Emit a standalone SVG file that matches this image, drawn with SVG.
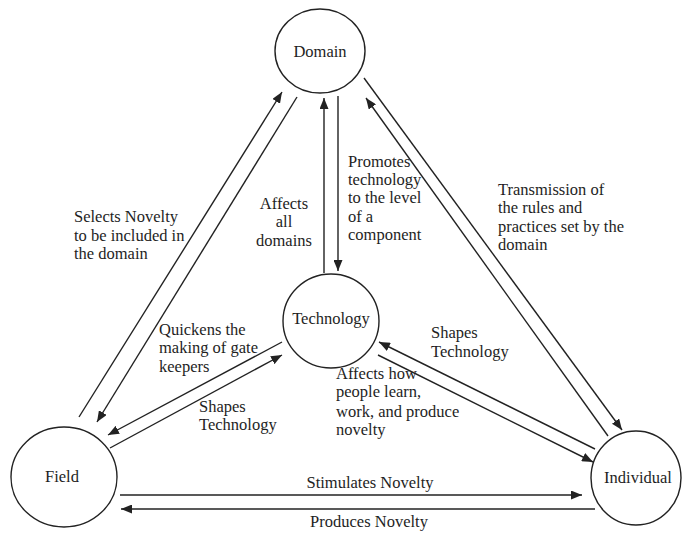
<svg xmlns="http://www.w3.org/2000/svg" width="682" height="533" viewBox="0 0 682 533">
  <style>
    .node { fill: #ffffff; stroke: #222222; stroke-width: 1.4; }
    .edge { fill: none; stroke: #222222; stroke-width: 1.4; }
    .txt { font-family: "Liberation Serif", "Times New Roman", serif; font-size: 16.5px; fill: #1e1e1e; }
    .mid { text-anchor: middle; }
  </style>
  <defs>
    <marker id="head" markerUnits="userSpaceOnUse" markerWidth="11" markerHeight="9" refX="11" refY="4.5" orient="auto">
      <path d="M0,0 L11,4.5 L0,9 Z" fill="#222222"/>
    </marker>
  </defs>

  <rect width="682" height="533" fill="#ffffff"/>

  <!-- connectors -->
  <g id="connectors">
    <!-- Field <-> Domain -->
    <line class="edge" x1="79" y1="417" x2="282" y2="92" marker-end="url(#head)"/>
    <line class="edge" x1="297" y1="97" x2="97" y2="422" marker-end="url(#head)"/>
    <!-- Technology <-> Domain -->
    <line class="edge" x1="324" y1="273" x2="324" y2="98" marker-end="url(#head)"/>
    <line class="edge" x1="338" y1="96" x2="338" y2="271" marker-end="url(#head)"/>
    <!-- Domain <-> Individual -->
    <line class="edge" x1="364" y1="78" x2="622" y2="430" marker-end="url(#head)"/>
    <line class="edge" x1="608" y1="436" x2="366" y2="98" marker-end="url(#head)"/>
    <!-- Technology <-> Field -->
    <line class="edge" x1="282" y1="342" x2="108" y2="435" marker-end="url(#head)"/>
    <line class="edge" x1="110" y1="448" x2="282" y2="355" marker-end="url(#head)"/>
    <!-- Technology <-> Individual -->
    <line class="edge" x1="595" y1="449" x2="379" y2="342" marker-end="url(#head)"/>
    <line class="edge" x1="378" y1="355" x2="593" y2="462" marker-end="url(#head)"/>
    <!-- Field <-> Individual -->
    <line class="edge" x1="120" y1="495" x2="582" y2="495" marker-end="url(#head)"/>
    <line class="edge" x1="595" y1="509" x2="121" y2="509" marker-end="url(#head)"/>
  </g>

  <!-- connector labels -->
  <g id="labels" class="txt">
    <text x="74" y="222">Selects Novelty</text>
    <text x="74" y="241">to be included in</text>
    <text x="74" y="259">the domain</text>

    <text class="mid" x="284" y="209">Affects</text>
    <text class="mid" x="284" y="227">all</text>
    <text class="mid" x="284" y="246">domains</text>

    <text x="348" y="167">Promotes</text>
    <text x="348" y="185">technology</text>
    <text x="348" y="203">to the level</text>
    <text x="348" y="222">of a</text>
    <text x="348" y="240">component</text>

    <text x="498" y="195">Transmission of</text>
    <text x="498" y="213">the rules and</text>
    <text x="498" y="232">practices set by the</text>
    <text x="498" y="250">domain</text>

    <text x="159" y="335">Quickens the</text>
    <text x="159" y="353">making of gate</text>
    <text x="159" y="372">keepers</text>

    <text x="199" y="412">Shapes</text>
    <text x="199" y="430">Technology</text>

    <text x="336" y="379">Affects how</text>
    <text x="336" y="397">people learn,</text>
    <text x="336" y="417">work, and produce</text>
    <text x="336" y="435">novelty</text>

    <text x="431" y="338">Shapes</text>
    <text x="431" y="357">Technology</text>

    <text class="mid" x="370" y="488">Stimulates Novelty</text>
    <text class="mid" x="369" y="527">Produces Novelty</text>
  </g>

  <!-- nodes -->
  <g id="domain">
    <ellipse class="node" cx="320" cy="51" rx="45" ry="42"/>
    <text class="txt mid" x="320" y="57">Domain</text>
  </g>
  <g id="technology">
    <ellipse class="node" cx="331" cy="321" rx="48" ry="47"/>
    <text class="txt mid" x="331" y="324">Technology</text>
  </g>
  <g id="field">
    <ellipse class="node" cx="64" cy="477" rx="53" ry="50"/>
    <text class="txt mid" x="62" y="482">Field</text>
  </g>
  <g id="individual">
    <ellipse class="node" cx="636" cy="478" rx="45" ry="47"/>
    <text class="txt mid" x="638" y="483">Individual</text>
  </g>
</svg>
